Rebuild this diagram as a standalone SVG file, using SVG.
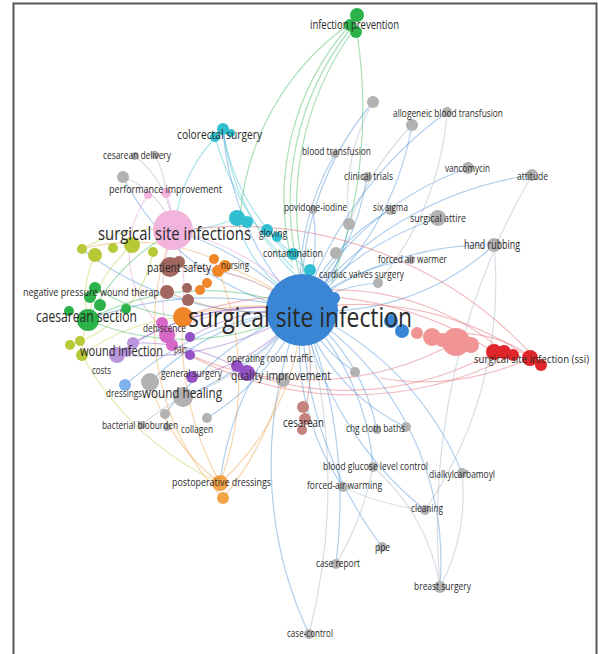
<svg xmlns="http://www.w3.org/2000/svg" width="598" height="654" viewBox="0 0 598 654">
<style>
.e{fill:none;stroke-width:1.2;stroke-linecap:round;opacity:.45}
.b{stroke:#4f94d8}.g{stroke:#3dbb62}.c{stroke:#3ec0d2}.r{stroke:#e06a72}.p{stroke:#e59ad0}.v{stroke:#9a66d0}.o{stroke:#eea450}.y{stroke:#c2cf4a}.k{stroke:#a9b6c6}.n{stroke:#a6706a}
.l{font-family:"Open Sans","Noto Sans","Liberation Sans",sans-serif;fill:#2a2a2a}
.s10{font-size:10.5px}.s11{font-size:11.5px}.s12{font-size:12.5px}.s14{font-size:14.5px}.s16{font-size:17px}.s18{font-size:19px}
.gy{fill:#b2b2b2}.cy{fill:#2fbfd0}.gr{fill:#2bb24a}.yg{fill:#b7c936}.pk{fill:#f2b4dd}.mg{fill:#d767c7}.br{fill:#a0665f}.or{fill:#f08628}.pu{fill:#9552c6}.lv{fill:#b995dc}.lb{fill:#80b1ea}.rb{fill:#c4837c}.po{fill:#f2a447}.bl{fill:#3a86d4}.rp{fill:#f09494}.rd{fill:#e0262a}
</style>
<rect x="13.5" y="3.5" width="583" height="670" fill="#fff" stroke="#555" stroke-width="2"/>
<g id="connectors">
<path class="e g" stroke-width="2" d="M350 25 A260 260 0 0 0 292 262"/>
<path class="e g" d="M352 27 A280 280 0 0 0 300 276"/>
<path class="e g" d="M354 29 A300 300 0 0 0 306 280"/>
<path class="e g" d="M357 33 A500 500 0 0 1 332 282"/>
<path class="e g" d="M348 25 A260 260 0 0 0 240 218"/>
<path class="e c" d="M223 130 A250 250 0 0 0 300 280"/>
<path class="e c" d="M223 130 A200 200 0 0 0 290 252"/>
<path class="e c" d="M223 130 A150 150 0 0 0 175 225"/>
<path class="e c" d="M215 137 A300 300 0 0 0 293 268"/>
<path class="e c" d="M237 218 A120 120 0 0 0 302 300"/>
<path class="e c" d="M237 218 A150 150 0 0 1 173 230"/>
<path class="e c" d="M267 230 A150 150 0 0 0 310 270"/>
<path class="e b" d="M302 310 A300 300 0 0 1 373 102"/>
<path class="e b" d="M302 310 A300 300 0 0 0 412 125"/>
<path class="e b" d="M302 310 A400 400 0 0 1 447 112"/>
<path class="e b" d="M302 310 A250 250 0 0 1 335 154"/>
<path class="e b" d="M302 310 A250 250 0 0 0 367 177"/>
<path class="e b" d="M302 310 A300 300 0 0 1 468 168"/>
<path class="e b" stroke-width="2" d="M302 310 A350 350 0 0 1 532 175"/>
<path class="e b" d="M302 310 A200 200 0 0 0 313 210"/>
<path class="e b" d="M302 310 A200 200 0 0 1 390 210"/>
<path class="e b" d="M302 310 A300 300 0 0 1 438 218"/>
<path class="e b" d="M302 310 A150 150 0 0 0 349 224"/>
<path class="e b" d="M302 310 A300 300 0 0 1 494 245"/>
<path class="e b" d="M302 310 A250 250 0 0 0 494 245"/>
<path class="e b" d="M302 310 A200 200 0 0 1 411 260"/>
<path class="e b" d="M302 310 A150 150 0 0 1 378 283"/>
<path class="e b" d="M302 310 A400 400 0 0 0 309 634"/>
<path class="e k" d="M302 310 A600 600 0 0 1 309 634"/>
<path class="e b" d="M302 310 A500 500 0 0 1 336 564"/>
<path class="e b" d="M302 310 A400 400 0 0 0 382 547"/>
<path class="e b" d="M302 310 A300 300 0 0 1 440 587"/>
<path class="e b" d="M302 310 A350 350 0 0 0 425 510"/>
<path class="e b" d="M302 310 A300 300 0 0 1 462 473"/>
<path class="e b" d="M302 310 A250 250 0 0 0 343 487"/>
<path class="e b" d="M302 310 A250 250 0 0 1 373 467"/>
<path class="e b" d="M302 310 A200 200 0 0 0 406 427"/>
<path class="e b" d="M302 310 A200 200 0 0 1 377 430"/>
<path class="e b" d="M302 310 A150 150 0 0 0 355 372"/>
<path class="e n" d="M302 310 A200 200 0 0 1 303 420"/>
<path class="e b" d="M302 310 A250 250 0 0 0 150 382"/>
<path class="e b" d="M302 310 A300 300 0 0 1 183 397"/>
<path class="e b" d="M302 310 A300 300 0 0 0 165 414"/>
<path class="e b" d="M302 310 A250 250 0 0 1 207 418"/>
<path class="e b" d="M302 310 A300 300 0 0 0 125 385"/>
<path class="e b" d="M302 310 A350 350 0 0 0 88 320"/>
<path class="e b" d="M302 310 A300 300 0 0 1 82 249"/>
<path class="e b" d="M302 310 A300 300 0 0 0 173 230"/>
<path class="e b" d="M302 310 A300 300 0 0 1 223 130"/>
<path class="e b" d="M302 310 A300 300 0 0 0 220 483"/>
<path class="e b" d="M302 310 A250 250 0 0 1 123 177"/>
<path class="e r" d="M530 358 A300 300 0 0 0 302 310"/>
<path class="e r" d="M494 352 A350 350 0 0 0 183 317"/>
<path class="e r" d="M541 365 A400 400 0 0 0 173 232"/>
<path class="e r" d="M513 355 A350 350 0 0 1 166 342"/>
<path class="e r" d="M456 342 A300 300 0 0 1 190 355"/>
<path class="e r" d="M504 352 A260 260 0 0 0 330 290"/>
<path class="e r" d="M530 358 A250 250 0 0 1 380 378"/>
<path class="e r" d="M541 365 A120 120 0 0 0 440 335"/>
<path class="e r" d="M494 352 A300 300 0 0 1 247 373"/>
<path class="e p" d="M173 230 A250 250 0 0 1 300 300"/>
<path class="e p" d="M173 230 A200 200 0 0 0 167 335"/>
<path class="e p" d="M173 230 A150 150 0 0 1 172 345"/>
<path class="e p" d="M166 193 A100 100 0 0 1 173 230"/>
<path class="e p" d="M148 195 A100 100 0 0 0 165 330"/>
<path class="e p" d="M167 335 A200 200 0 0 1 302 310"/>
<path class="e v" d="M302 310 A250 250 0 0 0 117 355"/>
<path class="e v" d="M302 310 A300 300 0 0 1 117 355"/>
<path class="e v" d="M302 310 A260 260 0 0 0 133 343"/>
<path class="e v" d="M247 373 A200 200 0 0 0 133 343"/>
<path class="e v" d="M302 310 A200 200 0 0 1 192 377"/>
<path class="e v" d="M302 310 A200 200 0 0 0 190 337"/>
<path class="e o" d="M220 483 A300 300 0 0 1 183 317"/>
<path class="e o" d="M220 483 A300 300 0 0 0 214 259"/>
<path class="e o" d="M220 483 A250 250 0 0 0 302 310"/>
<path class="e o" d="M220 483 A200 200 0 0 1 150 382"/>
<path class="e o" d="M223 498 A250 250 0 0 1 173 232"/>
<path class="e o" d="M223 498 A300 300 0 0 0 283 380"/>
<path class="e o" d="M225 266 A250 250 0 0 1 302 310"/>
<path class="e o" d="M183 317 A250 250 0 0 1 302 310"/>
<path class="e o" d="M214 259 A200 200 0 0 0 82 249"/>
<path class="e y" d="M82 249 A150 150 0 0 1 173 230"/>
<path class="e y" d="M95 255 A100 100 0 0 0 88 320"/>
<path class="e y" d="M82 355 A200 200 0 0 1 183 317"/>
<path class="e y" d="M132 245 A150 150 0 0 0 82 355"/>
<path class="e y" d="M82 355 A300 300 0 0 0 220 483"/>
<path class="e y" d="M153 252 A120 120 0 0 1 70 345"/>
<path class="e g" d="M88 320 A250 250 0 0 1 302 310"/>
<path class="e g" d="M88 320 A200 200 0 0 1 173 232"/>
<path class="e g" d="M95 288 A200 200 0 0 0 183 317"/>
<path class="e g" d="M88 320 A250 250 0 0 0 302 310"/>
<path class="e n" d="M170 267 A200 200 0 0 1 302 310"/>
<path class="e n" d="M167 292 A250 250 0 0 0 302 310"/>
<path class="e k" d="M532 175 A700 700 0 0 0 440 587"/>
<path class="e k" d="M494 245 A400 400 0 0 1 425 510"/>
<path class="e k" d="M462 473 A200 200 0 0 1 440 587"/>
<path class="e k" d="M373 467 A200 200 0 0 1 440 587"/>
<path class="e k" d="M343 487 A250 250 0 0 0 425 510"/>
<path class="e k" d="M135 156 A100 100 0 0 1 173 230"/>
<path class="e k" d="M123 177 A80 80 0 0 1 173 230"/>
<path class="e k" d="M155 155 A100 100 0 0 1 166 193"/>
<path class="e k" d="M183 397 A250 250 0 0 0 302 310"/>
<path class="e k" d="M142 425 A200 200 0 0 1 183 397"/>
<path class="e k" d="M373 102 A200 200 0 0 0 349 224"/>
<path class="e k" d="M412 125 A300 300 0 0 0 349 224"/>
<path class="e k" d="M447 112 A300 300 0 0 1 378 283"/>
<path class="e k" d="M336 564 A300 300 0 0 0 373 467"/>
</g>
<g id="n-unlabeled-gray">
<circle class="gy" cx="373" cy="102" r="6"/><circle class="gy" cx="349" cy="224" r="6"/><circle class="gy" cx="336" cy="253" r="6"/><circle class="gy" cx="355" cy="372" r="5"/><circle class="gy" cx="123" cy="177" r="6"/><circle class="gy" cx="165" cy="414" r="5"/>
</g>
<g id="n-allogeneic"><circle class="gy" cx="412" cy="125" r="6"/><circle class="gy" cx="447" cy="112" r="5"/><text class="l s10" x="393" y="117" textLength="110" lengthAdjust="spacingAndGlyphs">allogeneic blood transfusion</text></g>
<g id="n-blood-transfusion"><circle class="gy" cx="335" cy="154" r="4"/><text class="l s10" x="302" y="155" textLength="69" lengthAdjust="spacingAndGlyphs">blood transfusion</text></g>
<g id="n-clinical-trials"><circle class="gy" cx="367" cy="177" r="5"/><text class="l s10" x="344" y="180" textLength="49" lengthAdjust="spacingAndGlyphs">clinical trials</text></g>
<g id="n-vancomycin"><circle class="gy" cx="468" cy="168" r="6"/><text class="l s10" x="445" y="172" textLength="45" lengthAdjust="spacingAndGlyphs">vancomycin</text></g>
<g id="n-attitude"><circle class="gy" cx="532" cy="175" r="6"/><text class="l s10" x="517" y="180" textLength="31" lengthAdjust="spacingAndGlyphs">attitude</text></g>
<g id="n-povidone"><circle class="gy" cx="313" cy="210" r="4"/><text class="l s10" x="284" y="211" textLength="63" lengthAdjust="spacingAndGlyphs">povidone-iodine</text></g>
<g id="n-six-sigma"><circle class="gy" cx="390" cy="210" r="5"/><text class="l s10" x="373" y="211" textLength="35" lengthAdjust="spacingAndGlyphs">six sigma</text></g>
<g id="n-surgical-attire"><circle class="gy" cx="438" cy="218" r="8"/><text class="l s11" x="410" y="222" textLength="56" lengthAdjust="spacingAndGlyphs">surgical attire</text></g>
<g id="n-hand-rubbing"><circle class="gy" cx="494" cy="245" r="7"/><text class="l s12" x="464" y="249" textLength="56" lengthAdjust="spacingAndGlyphs">hand rubbing</text></g>
<g id="n-forced-air-warmer"><circle class="gy" cx="411" cy="260" r="4"/><text class="l s10" x="378" y="263" textLength="69" lengthAdjust="spacingAndGlyphs">forced air warmer</text></g>
<g id="n-cardiac"><circle class="gy" cx="378" cy="283" r="5"/><text class="l s10" x="319" y="278" textLength="85" lengthAdjust="spacingAndGlyphs">cardiac valves surgery</text></g>
<g id="n-chg"><circle class="gy" cx="406" cy="427" r="5"/><circle class="gy" cx="377" cy="430" r="4"/><text class="l s10" x="346" y="432" textLength="59" lengthAdjust="spacingAndGlyphs">chg cloth baths</text></g>
<g id="n-blood-glucose"><circle class="gy" cx="373" cy="467" r="5"/><text class="l s10" x="323" y="470" textLength="105" lengthAdjust="spacingAndGlyphs">blood glucose level control</text></g>
<g id="n-dialkyl"><circle class="gy" cx="462" cy="473" r="5"/><text class="l s10" x="429" y="478" textLength="66" lengthAdjust="spacingAndGlyphs">dialkylcarbamoyl</text></g>
<g id="n-forced-air-warming"><circle class="gy" cx="343" cy="487" r="5"/><text class="l s10" x="307" y="489" textLength="75" lengthAdjust="spacingAndGlyphs">forced-air warming</text></g>
<g id="n-cleaning"><circle class="gy" cx="425" cy="510" r="5"/><text class="l s10" x="411" y="512" textLength="32" lengthAdjust="spacingAndGlyphs">cleaning</text></g>
<g id="n-ppe"><circle class="gy" cx="382" cy="547" r="5"/><text class="l s10" x="375" y="551" textLength="15" lengthAdjust="spacingAndGlyphs">ppe</text></g>
<g id="n-case-report"><circle class="gy" cx="336" cy="564" r="5"/><text class="l s10" x="316" y="567" textLength="44" lengthAdjust="spacingAndGlyphs">case report</text></g>
<g id="n-breast-surgery"><circle class="gy" cx="440" cy="587" r="6"/><text class="l s10" x="414" y="590" textLength="57" lengthAdjust="spacingAndGlyphs">breast surgery</text></g>
<g id="n-case-control"><circle class="gy" cx="309" cy="634" r="5"/><text class="l s10" x="287" y="637" textLength="46" lengthAdjust="spacingAndGlyphs">case-control</text></g>
<g id="n-cesarean-delivery"><circle class="gy" cx="135" cy="156" r="4"/><circle class="gy" cx="155" cy="155" r="4"/><text class="l s10" x="103" y="159" textLength="68" lengthAdjust="spacingAndGlyphs">cesarean delivery</text></g>
<g id="n-performance-improvement"><circle class="pk" cx="148" cy="195" r="4"/><circle class="pk" cx="166" cy="193" r="5"/><text class="l s10" x="109" y="193" textLength="113" lengthAdjust="spacingAndGlyphs">performance improvement</text></g>
<g id="n-colorectal"><circle class="cy" cx="223" cy="129" r="6"/><circle class="cy" cx="215" cy="137" r="5"/><circle class="cy" cx="231" cy="133" r="4"/><text class="l s12" x="177" y="139" textLength="85" lengthAdjust="spacingAndGlyphs">colorectal surgery</text></g>
<g id="n-infection-prevention"><circle class="gr" cx="357" cy="15" r="7"/><circle class="gr" cx="350" cy="25" r="6"/><circle class="gr" cx="356" cy="32" r="6"/><text class="l s12" x="310" y="29" textLength="89" lengthAdjust="spacingAndGlyphs">infection prevention</text></g>
<g id="n-gloving"><circle class="cy" cx="237" cy="218" r="8"/><circle class="cy" cx="247" cy="222" r="6"/><circle class="cy" cx="267" cy="230" r="6"/><circle class="cy" cx="277" cy="237" r="5"/><text class="l s10" x="259" y="237" textLength="28" lengthAdjust="spacingAndGlyphs">gloving</text></g>
<g id="n-contamination"><circle class="cy" cx="293" cy="254" r="6"/><circle class="cy" cx="310" cy="270" r="6"/><text class="l s11" x="263" y="257" textLength="60" lengthAdjust="spacingAndGlyphs">contamination</text></g>
<g id="n-yellow"><circle class="yg" cx="82" cy="249" r="5"/><circle class="yg" cx="95" cy="255" r="7"/><circle class="yg" cx="113" cy="248" r="5"/><circle class="yg" cx="132" cy="245" r="8"/><circle class="yg" cx="153" cy="252" r="5"/><circle class="yg" cx="70" cy="345" r="5"/><circle class="yg" cx="80" cy="341" r="5"/><circle class="yg" cx="82" cy="355" r="6"/></g>
<g id="n-costs"><text class="l s10" x="92" y="374" textLength="19" lengthAdjust="spacingAndGlyphs">costs</text></g>
<g id="n-surgical-site-infections"><circle class="pk" cx="173" cy="230" r="20"/><text class="l s18" x="98" y="240" textLength="153" lengthAdjust="spacingAndGlyphs">surgical site infections</text></g>
<g id="n-negative-pressure"><circle class="gr" cx="95" cy="288" r="6"/><circle class="gr" cx="90" cy="297" r="6"/><circle class="gr" cx="100" cy="305" r="6"/><circle class="gr" cx="126" cy="309" r="5"/><text class="l s10" x="23" y="296" textLength="136" lengthAdjust="spacingAndGlyphs">negative pressure wound therap</text></g>
<g id="n-caesarean-section"><circle class="gr" cx="69" cy="311" r="5"/><circle class="gr" cx="88" cy="320" r="11"/><text class="l s16" x="36" y="322" textLength="101" lengthAdjust="spacingAndGlyphs">caesarean section</text></g>
<g id="n-patient-safety"><circle class="br" cx="170" cy="267" r="10"/><circle class="br" cx="179" cy="262" r="6"/><circle class="br" cx="167" cy="292" r="7"/><circle class="br" cx="187" cy="288" r="5"/><circle class="br" cx="188" cy="300" r="6"/><text class="l s12" x="147" y="272" textLength="64" lengthAdjust="spacingAndGlyphs">patient safety</text></g>
<g id="n-nursing"><circle class="or" cx="214" cy="259" r="5"/><circle class="or" cx="225" cy="266" r="6"/><circle class="or" cx="218" cy="271" r="6"/><circle class="or" cx="207" cy="283" r="5"/><circle class="or" cx="200" cy="290" r="5"/><circle class="or" cx="183" cy="317" r="10"/><text class="l s10" x="221" y="269" textLength="28" lengthAdjust="spacingAndGlyphs">nursing</text></g>
<g id="n-dehiscence"><circle class="mg" cx="162" cy="323" r="6"/><circle class="mg" cx="167" cy="335" r="8"/><circle class="mg" cx="172" cy="345" r="6"/><text class="l s10" x="143" y="332" textLength="43" lengthAdjust="spacingAndGlyphs">dehiscence</text></g>
<g id="n-wound-infection"><circle class="lv" cx="117" cy="355" r="8"/><circle class="lv" cx="133" cy="343" r="6"/><circle class="lv" cx="127" cy="352" r="5"/><text class="l s14" x="80" y="356" textLength="83" lengthAdjust="spacingAndGlyphs">wound infection</text></g>
<g id="n-pain"><circle class="pu" cx="190" cy="337" r="5"/><circle class="pu" cx="190" cy="355" r="5"/><text class="l s10" x="174" y="353" textLength="13" lengthAdjust="spacingAndGlyphs">pain</text></g>
<g id="n-general-surgery"><circle class="pu" cx="192" cy="377" r="6"/><text class="l s10" x="161" y="377" textLength="61" lengthAdjust="spacingAndGlyphs">general surgery</text></g>
<g id="n-dressings"><circle class="lb" cx="125" cy="385" r="6"/><text class="l s10" x="106" y="397" textLength="36" lengthAdjust="spacingAndGlyphs">dressings</text></g>
<g id="n-wound-healing"><circle class="gy" cx="150" cy="382" r="9"/><circle class="gy" cx="183" cy="397" r="10"/><text class="l s14" x="142" y="398" textLength="80" lengthAdjust="spacingAndGlyphs">wound healing</text></g>
<g id="n-bacterial-bioburden"><circle class="gy" cx="142" cy="425" r="4"/><circle class="gy" cx="167" cy="427" r="4"/><text class="l s10" x="102" y="429" textLength="76" lengthAdjust="spacingAndGlyphs">bacterial bioburden</text></g>
<g id="n-collagen"><circle class="gy" cx="207" cy="418" r="5"/><text class="l s10" x="181" y="433" textLength="32" lengthAdjust="spacingAndGlyphs">collagen</text></g>
<g id="n-operating-room"><circle class="pu" cx="237" cy="366" r="6"/><text class="l s10" x="227" y="362" textLength="86" lengthAdjust="spacingAndGlyphs">operating room traffic</text></g>
<g id="n-quality-improvement"><circle class="pu" cx="247" cy="373" r="8"/><circle class="gy" cx="283" cy="380" r="7"/><text class="l s12" x="231" y="380" textLength="100" lengthAdjust="spacingAndGlyphs">quality improvement</text></g>
<g id="n-cesarean"><circle class="rb" cx="303" cy="407" r="6"/><circle class="rb" cx="305" cy="419" r="6"/><circle class="rb" cx="302" cy="430" r="5"/><text class="l s12" x="283" y="427" textLength="41" lengthAdjust="spacingAndGlyphs">cesarean</text></g>
<g id="n-postoperative-dressings"><circle class="po" cx="220" cy="483" r="8"/><circle class="po" cx="223" cy="498" r="6"/><text class="l s11" x="172" y="486" textLength="99" lengthAdjust="spacingAndGlyphs">postoperative dressings</text></g>
<g id="n-ssi"><circle class="rp" cx="417" cy="333" r="6"/><circle class="rp" cx="432" cy="337" r="9"/><circle class="rp" cx="442" cy="340" r="7"/><circle class="rp" cx="456" cy="342" r="14"/><circle class="rp" cx="471" cy="345" r="8"/><circle class="rd" cx="494" cy="352" r="8"/><circle class="rd" cx="504" cy="352" r="7"/><circle class="rd" cx="513" cy="355" r="6"/><circle class="rd" cx="530" cy="358" r="8"/><circle class="rd" cx="541" cy="365" r="6"/><text class="l s11" x="474" y="363" textLength="115" lengthAdjust="spacingAndGlyphs">surgical site infection (ssi)</text></g>
<g id="n-surgical-site-infection"><circle class="bl" cx="302" cy="310" r="36"/><circle class="bl" cx="334" cy="298" r="6"/><circle class="bl" cx="391" cy="321" r="7"/><circle class="bl" cx="402" cy="331" r="7"/><text class="l" font-size="28" x="188" y="327" textLength="224" lengthAdjust="spacingAndGlyphs">surgical site infection</text></g>
</svg>
